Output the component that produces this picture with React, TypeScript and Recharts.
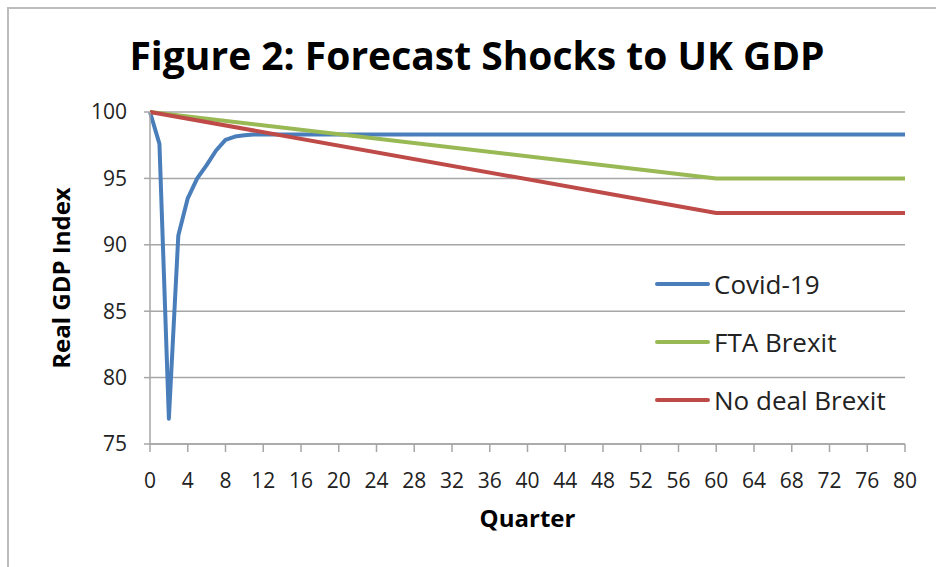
import { LineChart, Line, XAxis, YAxis, CartesianGrid } from "recharts";

// quarters / GDP index
const covidQuarters = [0, 1, 2, 3, 4, 5, 6, 7, 8, 9, 10, 11, 12, 80];
const covidIndex = [100, 97.6, 76.9, 90.7, 93.5, 95.0, 96.0, 97.1, 97.9, 98.15, 98.25, 98.3, 98.3, 98.3];

const ftaQuarters = [0, 60, 80];
const ftaIndex = [100, 95.0, 95.0];

const noDealQuarters = [0, 60, 80];
const noDealIndex = [100, 92.4, 92.4];

const xTicks = [0, 4, 8, 12, 16, 20, 24, 28, 32, 36, 40, 44, 48, 52, 56, 60, 64, 68, 72, 76, 80];
const yTicks = [75, 80, 85, 90, 95, 100];

const toPoints = (qs: number[], vs: number[]) => qs.map((q, i) => ({ q, v: vs[i] }));

const SERIES = [
  { name: "Covid-19", color: "#4A7EBB", data: toPoints(covidQuarters, covidIndex) },
  { name: "FTA Brexit", color: "#98B954", data: toPoints(ftaQuarters, ftaIndex) },
  { name: "No deal Brexit", color: "#BE4B48", data: toPoints(noDealQuarters, noDealIndex) },
];

const FONT = "'Open Sans', sans-serif";
const GRID = "#a6a6a6";
const TEXT = "#222";

function LegendBox() {
  return (
    <div style={{ position: "absolute", left: 655, top: 255, fontFamily: FONT }}>
      {SERIES.map((s) => (
        <div key={s.name} style={{ height: 58, display: "flex", alignItems: "center" }}>
          <span style={{ width: 55, height: 4, background: s.color, borderRadius: 2, marginRight: 4 }} />
          <span style={{ fontSize: 26, color: TEXT, lineHeight: 1 }}>{s.name}</span>
        </div>
      ))}
    </div>
  );
}

export default function App() {
  return (
    <div style={{ position: "relative", width: 936, height: 567, overflow: "hidden", background: "#fff" }}>
      <style>{`body{margin:0}`}</style>
      <LineChart width={936} height={567} margin={{ top: 112, right: 31, bottom: 83, left: 90 }}>
        <CartesianGrid vertical={false} stroke={GRID} strokeWidth={1.5} />
        <XAxis
          dataKey="q"
          type="number"
          domain={[0, 80]}
          ticks={xTicks}
          interval={0}
          height={40}
          tickSize={8}
          tickMargin={21}
          stroke={GRID}
          strokeWidth={1.5}
          tick={{ fontSize: 21, fill: TEXT, fontFamily: FONT }}
          label={{
            content: (p: any) => (
              <text x={p.viewBox.x + p.viewBox.width / 2} y={527} textAnchor="middle" fontFamily={FONT} fontWeight={700} fontSize={24} fill="#000">
                Quarter
              </text>
            ),
          }}
        />
        <YAxis
          type="number"
          domain={[75, 100]}
          ticks={yTicks}
          width={60}
          tickSize={6}
          tickMargin={17}
          stroke={GRID}
          strokeWidth={1.5}
          tick={{ fontSize: 21, fill: TEXT, fontFamily: FONT }}
          label={{
            content: (p: any) => (
              <text
                x={70}
                y={p.viewBox.y + p.viewBox.height / 2}
                transform={`rotate(-90 70 ${p.viewBox.y + p.viewBox.height / 2})`}
                textAnchor="middle"
                fontFamily={FONT}
                fontWeight={700}
                fontSize={24}
                fill="#000"
              >
                Real GDP Index
              </text>
            ),
          }}
        />
        {SERIES.map((s) => (
          <Line
            key={s.name}
            data={s.data}
            dataKey="v"
            name={s.name}
            type="linear"
            stroke={s.color}
            strokeWidth={4}
            strokeLinejoin="round"
            dot={false}
            activeDot={false}
            isAnimationActive={false}
          />
        ))}
      </LineChart>
      <LegendBox />
      <svg width={936} height={567} style={{ position: "absolute", left: 0, top: 0, pointerEvents: "none" }}>
        <path d="M8 567 L8 8 L936 8" fill="none" stroke="#bdbdbd" strokeWidth={2} />
        <text x={477} y={70} textAnchor="middle" fontFamily={FONT} fontWeight={700} fontSize={39} fill="#000">
          Figure 2: Forecast Shocks to UK GDP
        </text>
      </svg>
    </div>
  );
}
